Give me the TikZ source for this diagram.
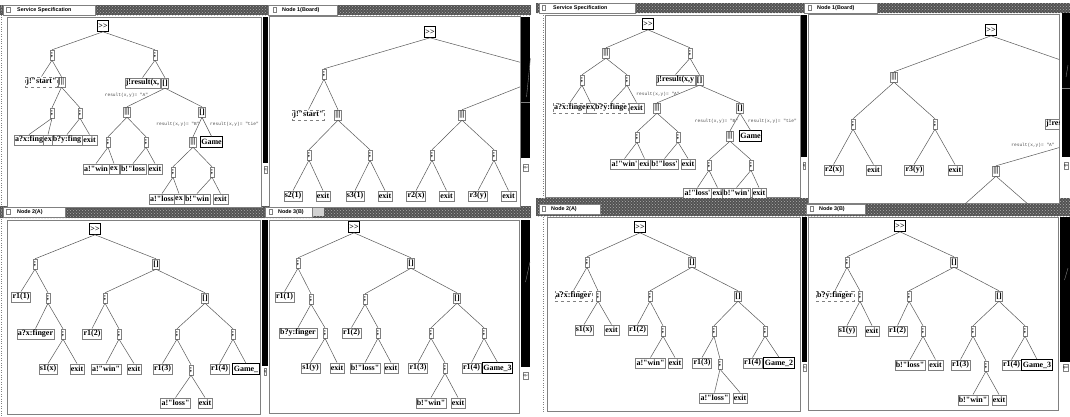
\documentclass[tikz,border=0pt]{standalone}
\usepackage{fontspec}
\setmainfont{Liberation Serif}[Ligatures=TeXOff]
\setsansfont{Liberation Sans}[Ligatures=TeXOff]
\setmonofont{Liberation Mono}
\usetikzlibrary{patterns}
\definecolor{rahmen}{gray}{0.5}
\definecolor{kante}{gray}{0.35}
\definecolor{marke}{gray}{0.3}
\tikzstyle{op} = [draw=rahmen,fill=white,inner sep=0.9pt,minimum height=10pt,font=\fontsize{8}{8}\selectfont\bfseries]
\tikzstyle{leaf} = [draw=rahmen,fill=white,inner sep=1pt,minimum height=10.5pt,font=\fontsize{8}{8}\selectfont\bfseries]
\tikzstyle{gate} = [leaf,dashed,draw=gray]
\tikzstyle{seq} = [leaf,draw=black,line width=1.1pt]
\tikzstyle{inst} = [leaf,draw=black,line width=0.9pt]
\tikzstyle{cond} = [inner sep=0pt,text=marke,font=\ttfamily\fontsize{4.5}{4.5}\selectfont]
\tikzstyle{edge} = [draw=kante,line width=0.5pt]
\tikzstyle{pane} = [draw=rahmen,fill=white,line width=0.6pt]
\tikzstyle{hatchbar} = [fill=black!68,postaction={pattern=crosshatch dots,pattern color=black!32}]
\tikzstyle{tab} = [draw=rahmen,fill=white,line width=0.4pt]
\tikzstyle{tabtext} = [anchor=west,inner sep=0pt,font=\sffamily\bfseries\fontsize{5.4}{5.4}\selectfont]
\tikzstyle{knob} = [draw=rahmen,fill=white,inner sep=0.3pt,minimum height=7pt,font=\sffamily\fontsize{3.5}{3.5}\selectfont]

\begin{document}
\begin{tikzpicture}[x=1pt,y=-1pt]
\fill[white] (0,0) rectangle (1070,416);
\useasboundingbox (0,0) rectangle (1070,416);

% ---------------- left screen: frames
\fill[hatchbar] (0,5) rectangle (531,15);
\fill[hatchbar] (0,206) rectangle (531,218);
\draw[rahmen,dotted] (1.5,5) -- (1.5,416);
\draw[tab] (3,5) rectangle (95,15);
\draw[rahmen] (6.5,7.5) rectangle (10,12.5);
\node[tabtext] (tS1) at (17,10) {Service Specification};
\draw[tab] (268,5) rectangle (337,15);
\draw[rahmen] (273,7.5) rectangle (276.5,12.5);
\node[tabtext] (tN1) at (282,10) {Node 1(Board)};
\draw[tab] (3,207) rectangle (65,217);
\draw[rahmen] (6.5,209.5) rectangle (10,214.5);
\node[tabtext] (tA1) at (17,212) {Node 2(A)};
\draw[tab] (265,207) rectangle (312,217);
\draw[rahmen] (269,209.5) rectangle (272.5,214.5);
\node[tabtext] (tB1) at (278,212) {Node 3(B)};
\fill[gray!35] (313,208) rectangle (324,216);

\draw[pane] (7,17) rectangle (261,207);
\draw[pane] (269,16) rectangle (520,207);
\draw[pane] (7,220) rectangle (260,414);
\draw[pane] (269,220) rectangle (519,413);

\fill (263,17) rectangle (268,163);
\fill (521,17) rectangle (530,158);
\fill (262,220) rectangle (268,366);
\fill (521,220) rectangle (530,367);
\draw[gray] (521,102) -- (530,102);
\draw[gray] (530.5,58) -- (526.5,97);
\draw[gray] (530,262) -- (525.5,282);
\node[knob] (kS1) at (265.5,170) {q};
\node[knob] (kN1) at (525.5,168) {qu};
\node[knob] (kA1) at (265,372) {q};
\node[knob] (kB1) at (525.5,376) {qu};

% service specification
\begin{scope}
\clip (7,17) rectangle (261,207);
\node[seq] (S1r) at (103,26) {>>};
\node[op] (S1a) at (52,55) {;};
\node[op] (S1b) at (155,55) {;};
\node[gate] (S1go) at (41.5,82) {j!"start"};
\node[op] (S1p) at (61.5,82) {|||};
\node[leaf] (S1res) at (142.5,83) {j!result(x,};
\node[op] (S1c) at (165,83) {[]};
\node[op] (S1d) at (52,113) {;};
\node[op] (S1e) at (80,113) {;};
\node[op] (S1f) at (127,112) {|||};
\node[op] (S1g) at (202,112) {[]};
\node[cond] (S1ca) at (126.5,95) {result(x,y)= "A"};
\node[cond] (S1cb) at (178,124) {result(x,y)= "B"};
\node[cond] (S1ct) at (234.5,124) {result(x,y)= "tie"};
\node[leaf] (S1h) at (29,140) {a?x:fing};
\node[leaf] (S1i) at (48,140) {ex};
\node[leaf] (S1j) at (67,140) {b?y:fing};
\node[leaf] (S1k) at (89.5,140) {exit};
\node[op] (S1l) at (108,142) {;};
\node[op] (S1m) at (146,142) {;};
\node[op] (S1n) at (193,142) {|||};
\node[inst] (S1game) at (211.5,142) {Game};
\node[leaf] (S1o) at (96,169) {a!"win};
\node[leaf] (S1q) at (114,169) {ex};
\node[leaf] (S1s) at (133,169) {b!"loss};
\node[leaf] (S1t) at (155,169) {exit};
\node[op] (S1u) at (173,172) {;};
\node[op] (S1v) at (212,172) {;};
\node[leaf] (S1w) at (162,199) {a!"loss};
\node[leaf] (S1x) at (179,199) {ex};
\node[leaf] (S1y) at (197,199) {b!"win};
\node[leaf] (S1z) at (220.5,199) {exit};
\foreach \a/\b in {S1r/S1a,S1r/S1b,S1a/S1go,S1a/S1p,S1p/S1d,S1p/S1e,S1d/S1h,S1d/S1i,S1e/S1j,S1e/S1k,
  S1b/S1res,S1b/S1c,S1c/S1f,S1c/S1g,S1f/S1l,S1f/S1m,S1l/S1o,S1l/S1q,S1m/S1s,S1m/S1t,
  S1g/S1n,S1g/S1game,S1n/S1u,S1n/S1v,S1u/S1w,S1u/S1x,S1v/S1y,S1v/S1z}
  \draw[edge] (\a.south) -- (\b.north);
\end{scope}

% board
\begin{scope}
\clip (269,16) rectangle (520,207);
\node[seq] (N1r) at (430,32) {>>};
\node[op] (N1a) at (324,74) {;};
\coordinate (N1o1) at (545,69);
\coordinate (N1o2) at (545,77);
\node[gate] (N1go) at (308.5,115) {j!"start"};
\node[op] (N1p) at (338,115) {|||};
\node[op] (N1q) at (462,115) {|||};
\node[op] (N1b) at (309,155) {;};
\node[op] (N1c) at (370,155) {;};
\node[op] (N1d) at (432,155) {;};
\node[op] (N1e) at (494,155) {;};
\node[leaf] (N1s2) at (293,196) {s2(1)};
\node[leaf] (N1x2) at (323,196) {exit};
\node[leaf] (N1s3) at (355,196) {s3(1)};
\node[leaf] (N1x3) at (385,196) {exit};
\node[leaf] (N1r2) at (416,196) {r2(x)};
\node[leaf] (N1y2) at (446.5,196) {exit};
\node[leaf] (N1r3) at (478,196) {r3(y)};
\node[leaf] (N1y3) at (508.5,196) {exit};
\draw[edge] (N1r.south) -- (N1o1);
\draw[edge] (N1o2) -- (N1q.north);
\foreach \a/\b in {N1r/N1a,N1a/N1go,N1a/N1p,N1p/N1b,N1p/N1c,N1q/N1d,N1q/N1e,
  N1b/N1s2,N1b/N1x2,N1c/N1s3,N1c/N1x3,N1d/N1r2,N1d/N1y2,N1e/N1r3,N1e/N1y3}
  \draw[edge] (\a.south) -- (\b.north);
\end{scope}

% player A
\begin{scope}
\clip (7,220) rectangle (260,414);
\node[seq] (A1r) at (95,229) {>>};
\node[op] (A1a) at (35,264) {;};
\node[op] (A1b) at (156,264) {[]};
\node[leaf] (A1r1) at (21,297) {r1(1)};
\node[op] (A1c) at (48,298) {;};
\node[op] (A1d) at (105,298) {;};
\node[op] (A1e) at (205,298) {[]};
\node[leaf] (A1fin) at (35.5,334) {a?x:finger};
\node[op] (A1f) at (63,334) {;};
\node[leaf] (A1r12) at (92,334) {r1(2)};
\node[op] (A1g) at (119,334) {;};
\node[op] (A1h) at (177,334) {;};
\node[op] (A1i) at (233,334) {;};
\node[leaf] (A1s1) at (48,369) {s1(x)};
\node[leaf] (A1x1) at (77,369) {exit};
\node[leaf] (A1win) at (106,369) {a!"win"};
\node[leaf] (A1x2) at (134,369) {exit};
\node[leaf] (A1r13) at (162.5,369) {r1(3)};
\node[op] (A1j) at (191,370) {;};
\node[leaf] (A1r14) at (219.5,369) {r1(4)};
\node[inst] (A1game) at (246,369) {Game\_};
\node[leaf] (A1loss) at (175.5,403) {a!"loss"};
\node[leaf] (A1x3) at (205,403) {exit};
\foreach \a/\b in {A1r/A1a,A1r/A1b,A1a/A1r1,A1a/A1c,A1c/A1fin,A1c/A1f,A1f/A1s1,A1f/A1x1,
  A1b/A1d,A1b/A1e,A1d/A1r12,A1d/A1g,A1g/A1win,A1g/A1x2,A1e/A1h,A1e/A1i,
  A1h/A1r13,A1h/A1j,A1j/A1loss,A1j/A1x3,A1i/A1r14,A1i/A1game}
  \draw[edge] (\a.south) -- (\b.north);
\end{scope}

% player B
\begin{scope}
\clip (269,220) rectangle (519,413);
\node[seq] (B1r) at (354,227) {>>};
\node[op] (B1a) at (298,263) {;};
\node[op] (B1b) at (411,263) {[]};
\node[leaf] (B1r1) at (284.5,297) {r1(1)};
\node[op] (B1c) at (311,299) {;};
\node[op] (B1d) at (365,299) {;};
\node[op] (B1e) at (457,298) {[]};
\node[leaf] (B1fin) at (298,333) {b?y:finger};
\node[op] (B1f) at (325,333) {;};
\node[leaf] (B1r12) at (351.5,333) {r1(2)};
\node[op] (B1g) at (378,333) {;};
\node[op] (B1h) at (431,333) {;};
\node[op] (B1i) at (484,333) {;};
\node[leaf] (B1s1) at (310.5,368) {s1(y)};
\node[leaf] (B1x1) at (337,368) {exit};
\node[leaf] (B1loss) at (365,368) {b!"loss"};
\node[leaf] (B1x2) at (391,368) {exit};
\node[leaf] (B1r13) at (418,368) {r1(3)};
\node[op] (B1j) at (445,368) {;};
\node[leaf] (B1r14) at (471.5,368) {r1(4)};
\node[inst] (B1game) at (497.5,368) {Game\_3};
\node[leaf] (B1win) at (431,403) {b!"win"};
\node[leaf] (B1x3) at (458,403) {exit};
\foreach \a/\b in {B1r/B1a,B1r/B1b,B1a/B1r1,B1a/B1c,B1c/B1fin,B1c/B1f,B1f/B1s1,B1f/B1x1,
  B1b/B1d,B1b/B1e,B1d/B1r12,B1d/B1g,B1g/B1loss,B1g/B1x2,B1e/B1h,B1e/B1i,
  B1h/B1r13,B1h/B1j,B1j/B1win,B1j/B1x3,B1i/B1r14,B1i/B1game}
  \draw[edge] (\a.south) -- (\b.north);
\end{scope}

% ---------------- right screen: frames
\fill[hatchbar] (536,3) rectangle (1070,13);
\fill[hatchbar] (536,198) rectangle (1070,216);
\draw[rahmen,dotted] (543,13) -- (543,413);
\draw[tab] (539,3) rectangle (635,13);
\draw[rahmen] (542,5.5) rectangle (545.5,10.5);
\node[tabtext] (tS2) at (553,8) {Service Specification};
\draw[tab] (804,3) rectangle (877,13);
\draw[rahmen] (808,5.5) rectangle (811.5,10.5);
\node[tabtext] (tN2) at (817,8) {Node 1(Board)};
\draw[tab] (539,204) rectangle (600,214);
\draw[rahmen] (542,206.5) rectangle (545.5,211.5);
\node[tabtext] (tA2) at (551,209) {Node 2(A)};
\draw[tab] (806,204) rectangle (865,214);
\draw[rahmen] (810,206.5) rectangle (813.5,211.5);
\node[tabtext] (tB2) at (819,209) {Node 3(B)};

\draw[pane] (545,15) rectangle (800,197);
\draw[pane] (808,14) rectangle (1059,203);
\draw[pane] (547,217) rectangle (800,411);
\draw[pane] (808,217) rectangle (1058,410);

\fill (801,15) rectangle (807,157);
\fill (1062,13) rectangle (1070,157);
\fill (802,217) rectangle (807,362);
\fill (1060,217) rectangle (1070,362);
\draw[gray] (1062,88) -- (1070,88);
\draw[gray] (1068,65) -- (1066,77);
\draw[gray] (1068,268) -- (1064.5,280);
\node[knob] (kS2) at (804,166) {q};
\node[knob] (kN2) at (1066,166) {qu};
\node[knob] (kA2) at (804.5,368) {q};
\node[knob] (kB2) at (1065.5,368) {qui};

% service specification
\begin{scope}
\clip (545,15) rectangle (800,197);
\node[seq] (S2r) at (648,24) {>>};
\node[op] (S2a) at (606,53) {|||};
\node[op] (S2b) at (690,53) {;};
\node[op] (S2c) at (582,80) {;};
\node[op] (S2d) at (627,80) {;};
\node[leaf] (S2res) at (675.5,80) {j!result(x,y};
\node[op] (S2e) at (699.5,80) {[]};
\node[cond] (S2ca) at (658,94) {result(x,y)= "A"};
\node[gate] (S2h) at (570,108) {a?x:finge};
\node[leaf] (S2i) at (590.5,108) {ex};
\node[gate] (S2j) at (611,108) {b?y:finge};
\node[leaf] (S2k) at (636.5,108) {exit};
\node[op] (S2f) at (657,108) {|||};
\node[op] (S2g) at (740,108) {[]};
\node[cond] (S2cb) at (716.5,121) {result(x,y)= "B"};
\node[cond] (S2ct) at (772.5,121) {result(x,y)= "tie"};
\node[op] (S2l) at (637,137) {;};
\node[op] (S2m) at (678,137) {;};
\node[op] (S2n) at (730,136) {|||};
\node[inst] (S2game) at (750.5,136) {Game};
\node[leaf] (S2o) at (624.5,164) {a!"win'};
\node[leaf] (S2q) at (644.5,164) {exi};
\node[leaf] (S2s) at (664.5,164) {b!"loss'};
\node[leaf] (S2t) at (688,164) {exit};
\node[op] (S2u) at (709,165) {;};
\node[op] (S2v) at (751,165) {;};
\node[leaf] (S2w) at (697.5,193) {a!"loss'};
\node[leaf] (S2x) at (717.5,193) {exi};
\node[leaf] (S2y) at (736.5,193) {b!"win'};
\node[leaf] (S2z) at (759,193) {exit};
\foreach \a/\b in {S2r/S2a,S2r/S2b,S2a/S2c,S2a/S2d,S2c/S2h,S2c/S2i,S2d/S2j,S2d/S2k,
  S2b/S2res,S2b/S2e,S2e/S2f,S2e/S2g,S2f/S2l,S2f/S2m,S2l/S2o,S2l/S2q,S2m/S2s,S2m/S2t,
  S2g/S2n,S2g/S2game,S2n/S2u,S2n/S2v,S2u/S2w,S2u/S2x,S2v/S2y,S2v/S2z}
  \draw[edge] (\a.south) -- (\b.north);
\end{scope}

% board
\begin{scope}
\clip (808,14) rectangle (1059,203);
\node[seq] (N2r) at (991,30) {>>};
\node[op] (N2a) at (894,77) {|||};
\coordinate (N2o1) at (1075,65);
\node[op] (N2b) at (853,124) {;};
\node[op] (N2c) at (935,124) {;};
\node[leaf,anchor=west] (N2res) at (1045,124) {j!result(x,y};
\node[cond] (N2ca) at (1033,145) {result(x,y)= "A"};
\coordinate (N2o2) at (1075,143);
\node[op] (N2d) at (996,171) {|||};
\coordinate (N2o3) at (956,212);
\coordinate (N2o4) at (1037,212);
\node[leaf] (N2r2) at (833.5,170) {r2(x)};
\node[leaf] (N2y2) at (873.5,170) {exit};
\node[leaf] (N2r3) at (914,170) {r3(y)};
\node[leaf] (N2y3) at (955,170) {exit};
\draw[edge] (N2r.south) -- (N2o1);
\draw[edge] (N2o2) -- (N2d.north);
\draw[edge] (N2d.south) -- (N2o3);
\draw[edge] (N2d.south) -- (N2o4);
\foreach \a/\b in {N2r/N2a,N2a/N2b,N2a/N2c,N2b/N2r2,N2b/N2y2,N2c/N2r3,N2c/N2y3}
  \draw[edge] (\a.south) -- (\b.north);
\end{scope}

% player A
\begin{scope}
\clip (547,217) rectangle (800,411);
\node[seq] (A2r) at (640,227) {>>};
\node[op] (A2a) at (587,262) {;};
\node[op] (A2b) at (692,262) {[]};
\node[gate] (A2fin) at (573.5,296) {a?x:finger};
\node[op] (A2c) at (598,296) {;};
\node[op] (A2d) at (650,296) {;};
\node[op] (A2e) at (738,296) {[]};
\node[leaf] (A2s1) at (584,330) {s1(x)};
\node[leaf] (A2x1) at (611.5,330) {exit};
\node[leaf] (A2r12) at (637.5,330) {r1(2)};
\node[op] (A2f) at (663,331) {;};
\node[op] (A2g) at (714,331) {;};
\node[op] (A2h) at (765,331) {;};
\node[leaf] (A2win) at (650.5,363) {a!"win"};
\node[leaf] (A2x2) at (675,363) {exit};
\node[leaf] (A2r13) at (702,363) {r1(3)};
\node[op] (A2i) at (720,364) {;};
\node[leaf] (A2r14) at (752.5,363) {r1(4)};
\node[inst] (A2game) at (779,363) {Game\_2};
\node[leaf] (A2loss) at (714.5,398) {a!"loss"};
\node[leaf] (A2x3) at (740,398) {exit};
\foreach \a/\b in {A2r/A2a,A2r/A2b,A2a/A2fin,A2a/A2c,A2c/A2s1,A2c/A2x1,
  A2b/A2d,A2b/A2e,A2d/A2r12,A2d/A2f,A2f/A2win,A2f/A2x2,A2e/A2g,A2e/A2h,
  A2g/A2r13,A2g/A2i,A2i/A2loss,A2i/A2x3,A2h/A2r14,A2h/A2game}
  \draw[edge] (\a.south) -- (\b.north);
\end{scope}

% player B
\begin{scope}
\clip (808,217) rectangle (1058,410);
\node[seq] (B2r) at (900,226) {>>};
\node[op] (B2a) at (847,262) {;};
\node[op] (B2b) at (954,262) {[]};
\node[gate] (B2fin) at (835,296) {b?y:finger};
\node[op] (B2c) at (860,296) {;};
\node[op] (B2d) at (909,296) {;};
\node[op] (B2e) at (999,296) {[]};
\node[leaf] (B2s1) at (847,331) {s1(y)};
\node[leaf] (B2x1) at (872,331) {exit};
\node[leaf] (B2r12) at (897.5,331) {r1(2)};
\node[op] (B2f) at (923,331) {;};
\node[op] (B2g) at (973,331) {;};
\node[op] (B2h) at (1025,331) {;};
\node[leaf] (B2loss) at (910,365) {b!"loss"};
\node[leaf] (B2x2) at (935.5,365) {exit};
\node[leaf] (B2r13) at (960.5,365) {r1(3)};
\node[op] (B2i) at (986,366) {;};
\node[leaf] (B2r14) at (1011.5,365) {r1(4)};
\node[inst] (B2game) at (1037,365) {Game\_3};
\node[leaf] (B2win) at (973,400) {b!"win"};
\node[leaf] (B2x3) at (999,400) {exit};
\foreach \a/\b in {B2r/B2a,B2r/B2b,B2a/B2fin,B2a/B2c,B2c/B2s1,B2c/B2x1,
  B2b/B2d,B2b/B2e,B2d/B2r12,B2d/B2f,B2f/B2loss,B2f/B2x2,B2e/B2g,B2e/B2h,
  B2g/B2r13,B2g/B2i,B2i/B2win,B2i/B2x3,B2h/B2r14,B2h/B2game}
  \draw[edge] (\a.south) -- (\b.north);
\end{scope}
\end{tikzpicture}
\end{document}
